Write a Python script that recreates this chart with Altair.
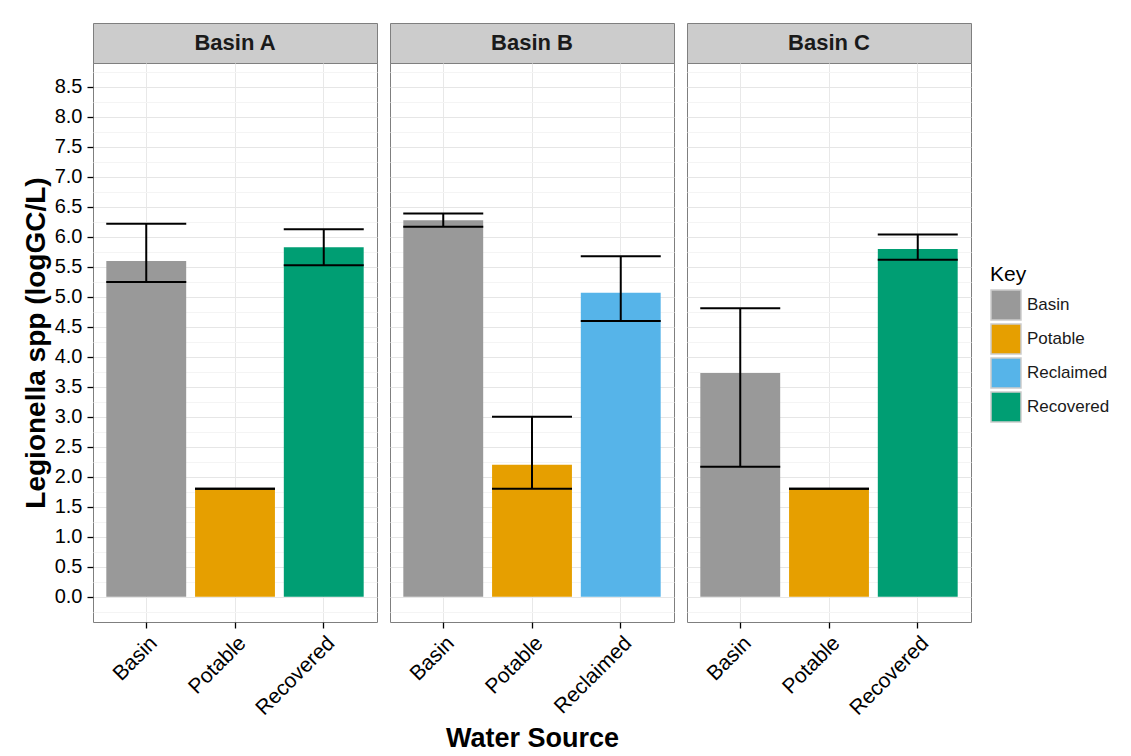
import altair as alt
import pandas as pd

FONT = "Liberation Sans"

# ---- data ----
panel_names = ["Basin A", "Basin B", "Basin C"]

sources_A = ["Basin", "Potable", "Recovered"]
means_A = [5.60, 1.80, 5.83]
lo_A = [5.25, 1.80, 5.53]
hi_A = [6.22, 1.80, 6.13]

sources_B = ["Basin", "Potable", "Reclaimed"]
means_B = [6.28, 2.20, 5.07]
lo_B = [6.17, 1.80, 4.60]
hi_B = [6.39, 3.00, 5.68]

sources_C = ["Basin", "Potable", "Recovered"]
means_C = [3.73, 1.80, 5.80]
lo_C = [2.17, 1.80, 5.62]
hi_C = [4.81, 1.80, 6.04]

key_domain = ["Basin", "Potable", "Reclaimed", "Recovered"]
key_colors = ["#999999", "#E69F00", "#56B4E9", "#009E73"]

# axis positions (major every 0.5 with labels, minor grid at the quarters)
grid_values = [-0.25, 0.0, 0.25, 0.5, 0.75, 1.0, 1.25, 1.5, 1.75, 2.0, 2.25, 2.5,
               2.75, 3.0, 3.25, 3.5, 3.75, 4.0, 4.25, 4.5, 4.75, 5.0, 5.25, 5.5,
               5.75, 6.0, 6.25, 6.5, 6.75, 7.0, 7.25, 7.5, 7.75, 8.0, 8.25, 8.5, 8.75]
y_domain = [-0.42, 8.9]

PANEL_W = 284
PANEL_H = 559
STRIP_H = 40

MAJOR = "datum.value % 0.5 === 0"


def make_column(name, sources, means, lo, hi, first, middle):
    df = pd.DataFrame({"source": sources, "mean": means, "lo": lo, "hi": hi})
    xscale = alt.Scale(domain=sources, paddingInner=0.1, paddingOuter=0.15)
    yscale = alt.Scale(domain=y_domain, nice=False, zero=False)

    x_axis = alt.Axis(
        labelAngle=-45, labelAlign="right", labelBaseline="top",
        labelFontSize=21, labelColor="black", labelFont=FONT, labelPadding=4,
        tickColor="black", tickSize=6, tickWidth=1.3,
        domain=False, grid=True, gridColor="#e8e8e8", gridWidth=1,
        title="Water Source" if middle else "",
        titleFont=FONT, titleFontSize=27, titleFontWeight="bold",
        titleColor="black", titlePadding=9,
    )
    y_axis = alt.Axis(
        values=grid_values,
        labelExpr=f"{MAJOR} ? format(datum.value, '.1f') : ''",
        labels=first, labelFontSize=20, labelColor="black", labelFont=FONT,
        labelOverlap=False, labelPadding=5,
        ticks=first,
        tickColor={"condition": {"test": MAJOR, "value": "black"}, "value": "transparent"},
        tickSize=6, tickWidth=1.3,
        domain=False, grid=True,
        gridColor={"condition": {"test": MAJOR, "value": "#e6e6e6"}, "value": "#f4f4f4"},
        gridWidth=1,
        title="Legionella spp (logGC/L)" if first else "",
        titleFont=FONT, titleFontSize=28, titleFontWeight="bold",
        titleColor="black", titlePadding=4,
    )

    X = alt.X("source:N", scale=xscale, axis=x_axis, sort=sources)

    bars = alt.Chart().mark_bar().encode(
        x=X,
        y=alt.Y("mean:Q", scale=yscale, axis=y_axis),
        color=alt.Color(
            "source:N",
            scale=alt.Scale(domain=key_domain, range=key_colors),
            legend=alt.Legend(
                title="Key", orient="none", legendX=897, legendY=241,
                titleFont=FONT, titleFontSize=21, titleFontWeight="normal",
                titleColor="black", titlePadding=4,
                labelFont=FONT, labelFontSize=17, labelColor="#1a1a1a",
                labelOffset=5,
                symbolType="square", symbolSize=900, symbolStrokeColor="#cccccc",
                symbolStrokeWidth=1.5, symbolOpacity=1, rowPadding=-20,
            ),
        ),
    )
    whisk = alt.Chart().mark_rule(color="black", strokeWidth=2).encode(
        x=X,
        y=alt.Y("lo:Q", scale=yscale, axis=y_axis),
        y2="hi:Q",
    )
    cap_hi = alt.Chart().mark_tick(color="black", size=80, thickness=2, opacity=1).encode(
        x=X,
        y=alt.Y("hi:Q", scale=yscale, axis=y_axis),
    )
    cap_lo = alt.Chart().mark_tick(color="black", size=80, thickness=2, opacity=1).encode(
        x=X,
        y=alt.Y("lo:Q", scale=yscale, axis=y_axis),
    )
    panel = alt.layer(bars, whisk, cap_hi, cap_lo, data=df).properties(
        width=PANEL_W, height=PANEL_H
    )

    strip = alt.Chart(pd.DataFrame({"panel": [name]})).mark_text(
        font=FONT, fontSize=22, fontWeight="bold", color="#1a1a1a", baseline="middle"
    ).encode(text="panel:N").properties(
        width=PANEL_W, height=STRIP_H,
        view=alt.ViewBackground(fill="#cccccc", stroke="#7f7f7f", strokeWidth=1),
    )
    return alt.vconcat(strip, panel, spacing=0, bounds="flush")


colA = make_column(panel_names[0], sources_A, means_A, lo_A, hi_A, True, False)
colB = make_column(panel_names[1], sources_B, means_B, lo_B, hi_B, False, True)
colC = make_column(panel_names[2], sources_C, means_C, lo_C, hi_C, False, False)

chart = alt.hconcat(colA, colB, colC, spacing=11).properties(
    padding={"left": 21, "top": 22, "right": 0, "bottom": 0},
    background="white",
).configure_view(
    stroke="#7f7f7f", strokeWidth=1
)

chart.save("out.html", embed_options={"renderer": "svg", "actions": False})
